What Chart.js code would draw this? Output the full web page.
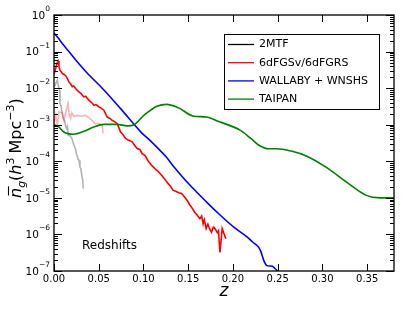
<!DOCTYPE html>
<html lang="en">
  <head>
    <meta charset="UTF-8" />
    <title>Redshifts</title>
    <script src="https://cdn.jsdelivr.net/npm/chart.js"></script>
    <style>
      body { margin: 0; background: #fff; }
      canvas { display: block; }
    </style>
  </head>
  <body>
    <canvas id="nzChart" width="415" height="312"></canvas>

    <script>
      // redshift z and number density (h^3 Mpc^-3)
      const mtfZ = [0.001, 0.002, 0.0037, 0.005, 0.006, 0.0067, 0.008, 0.009, 0.0104, 0.012, 0.013, 0.014, 0.015, 0.016, 0.018, 0.020, 0.021, 0.023, 0.024, 0.025, 0.026, 0.027, 0.028, 0.029, 0.030, 0.031, 0.032, 0.0327];
      const mtfN = [1.12e-2, 1.35e-2, 1.66e-2, 1.12e-2, 8.9e-3, 3.8e-3, 3.2e-3, 2.2e-3, 1.5e-3, 1.26e-3, 8.9e-4, 7.9e-4, 8.9e-4, 5.1e-4, 5.0e-4, 4.2e-4, 3.5e-4, 2.5e-4, 2.2e-4, 1.6e-4, 1.4e-4, 1.12e-4, 1.07e-4, 6.9e-5, 6.3e-5, 4.2e-5, 3.2e-5, 1.8e-5];

      const sixdfvZ = [0.0, 0.002, 0.0037, 0.0055, 0.009, 0.011, 0.0142, 0.0157, 0.0168, 0.0185, 0.020, 0.022, 0.026, 0.030, 0.035, 0.040, 0.046, 0.050, 0.054, 0.0548];
      const sixdfvN = [1.07e-3, 1.8e-3, 9.8e-4, 2.24e-3, 2.1e-3, 1.32e-3, 2.75e-3, 3.8e-3, 2.1e-3, 1.48e-3, 2.1e-3, 1.7e-3, 1.8e-3, 1.7e-3, 1.8e-3, 1.5e-3, 1.07e-3, 1.07e-3, 9.8e-4, 5.8e-4];

      const sixdfZ = [0.000, 0.002, 0.003, 0.0045, 0.0055, 0.0067, 0.008, 0.0093, 0.011, 0.013, 0.015, 0.0167, 0.0185, 0.0204, 0.022, 0.0242, 0.026, 0.0279, 0.030, 0.032, 0.0335, 0.0355, 0.0372, 0.039, 0.041, 0.043, 0.0446, 0.047, 0.050, 0.053, 0.0558, 0.0575, 0.0595, 0.062, 0.065, 0.068, 0.0706, 0.0725, 0.0744, 0.077, 0.080, 0.083, 0.0874, 0.090, 0.093, 0.096, 0.0985, 0.1016, 0.105, 0.109, 0.1127, 0.116, 0.120, 0.124, 0.1276, 0.130, 0.133, 0.136, 0.1395, 0.1425, 0.146, 0.149, 0.152, 0.155, 0.157, 0.160, 0.163, 0.165, 0.1667, 0.168, 0.170, 0.172, 0.174, 0.176, 0.178, 0.180, 0.1825, 0.1838, 0.1855, 0.188, 0.190, 0.192];
      const sixdfN = [2.4e-2, 3.55e-2, 4.47e-2, 5.5e-2, 3.98e-2, 3.09e-2, 2.82e-2, 2.51e-2, 2.4e-2, 2.19e-2, 1.82e-2, 1.48e-2, 1.32e-2, 1.1e-2, 1.15e-2, 9.8e-3, 8.7e-3, 7.9e-3, 7.2e-3, 6.3e-3, 5.75e-3, 6.0e-3, 5.25e-3, 4.7e-3, 4.2e-3, 3.8e-3, 3.4e-3, 3.55e-3, 3.1e-3, 2.8e-3, 2.5e-3, 2.0e-3, 1.62e-3, 1.51e-3, 1.32e-3, 1.2e-3, 1.07e-3, 8.3e-4, 6.3e-4, 5.4e-4, 4.2e-4, 3.8e-4, 3.4e-4, 2.75e-4, 2.24e-4, 2.1e-4, 1.62e-4, 1.45e-4, 1.05e-4, 7.8e-5, 6.3e-5, 5.4e-5, 4.2e-5, 3.2e-5, 2.45e-5, 2.1e-5, 1.62e-5, 1.51e-5, 1.38e-5, 1.32e-5, 1.05e-5, 8.3e-6, 6.3e-6, 5.0e-6, 4.1e-6, 3.4e-6, 2.7e-6, 3.2e-6, 1.95e-6, 2.5e-6, 1.45e-6, 1.9e-6, 1.41e-6, 1.15e-6, 1.58e-6, 1.45e-6, 1.12e-6, 1.26e-6, 3.2e-7, 1.45e-6, 1.05e-6, 7.6e-7];

      const wallabyZ = [0, 0.005, 0.01, 0.0167, 0.025, 0.037, 0.0558, 0.0744, 0.0985, 0.107, 0.125, 0.133, 0.15, 0.17, 0.185, 0.202, 0.215, 0.222, 0.228, 0.231, 0.235, 0.238, 0.244, 0.247, 0.25];
      const wallabyN = [3.2e-1, 2.3e-1, 1.58e-1, 1.0e-1, 5.6e-2, 2.6e-2, 8.9e-3, 2.75e-3, 5.8e-4, 3.8e-4, 1.35e-4, 7.6e-5, 2.5e-5, 7.9e-6, 3.5e-6, 1.5e-6, 8.9e-7, 6.2e-7, 4.7e-7, 3.5e-7, 1.8e-7, 1.4e-7, 1.35e-7, 1.17e-7, 1.0e-7];

      const taipanZ = [0, 0.005, 0.011, 0.022, 0.0335, 0.0446, 0.0558, 0.0706, 0.082, 0.089, 0.1004, 0.115, 0.126, 0.135, 0.141, 0.155, 0.17, 0.185, 0.208, 0.22, 0.229, 0.24, 0.249, 0.265, 0.282, 0.304, 0.327, 0.349, 0.364, 0.38];
      const taipanN = [1.0e-3, 8.9e-4, 6.3e-4, 5.5e-4, 6.6e-4, 8.7e-4, 1.02e-3, 1.02e-3, 9.3e-4, 9.8e-4, 1.8e-3, 3.2e-3, 3.6e-3, 3.2e-3, 2.75e-3, 1.74e-3, 1.62e-3, 1.2e-3, 7.1e-4, 4.2e-4, 2.75e-4, 2.2e-4, 2.2e-4, 1.9e-4, 1.4e-4, 6.9e-5, 2.7e-5, 1.17e-5, 1.0e-5, 1.0e-5];

      const xTicks = [0, 0.05, 0.10, 0.15, 0.20, 0.25, 0.30, 0.35];
      const yTickExps = [0, -1, -2, -3, -4, -5, -6, -7];
      const legendLabels = ['2MTF', '6dFGSv/6dFGRS', 'WALLABY + WNSHS', 'TAIPAN'];
      const legendColors = ['#000000', '#ff0000', '#0000ff', '#008000'];

      const FONT = '"DejaVu Sans", "Liberation Sans", sans-serif';

      function pts(zs, ns) {
        return zs.map((z, i) => ({ x: z, y: ns[i] }));
      }

      // frame, inward ticks, tick labels, axis titles and legend box
      const decorations = {
        id: 'decorations',
        afterDatasetsDraw(chart) {
          const ctx = chart.ctx;
          const a = chart.chartArea;
          const xs = chart.scales.x;
          const ys = chart.scales.y;
          ctx.save();
          ctx.strokeStyle = '#000';
          ctx.fillStyle = '#000';
          ctx.lineWidth = 1;

          // x ticks, top and bottom
          ctx.beginPath();
          xTicks.forEach(v => {
            const px = Math.round(xs.getPixelForValue(v)) + 0.5;
            ctx.moveTo(px, a.bottom); ctx.lineTo(px, a.bottom - 7);
            ctx.moveTo(px, a.top); ctx.lineTo(px, a.top + 7);
          });
          // y ticks, major and minor, left and right
          yTickExps.forEach(e => {
            for (let m = 1; m <= 9; m++) {
              const v = m * Math.pow(10, e);
              if (v > 1 || v < 1e-7) continue;
              const py = Math.round(ys.getPixelForValue(v)) + 0.5;
              const len = m === 1 ? 8 : 4;
              ctx.moveTo(a.left, py); ctx.lineTo(a.left + len, py);
              ctx.moveTo(a.right, py); ctx.lineTo(a.right - len, py);
            }
          });
          ctx.stroke();

          ctx.lineWidth = 1.3;
          ctx.strokeRect(a.left, a.top, a.right - a.left, a.bottom - a.top);

          // x tick labels
          ctx.font = '10px ' + FONT;
          ctx.textAlign = 'center';
          ctx.textBaseline = 'middle';
          xTicks.forEach(v => {
            ctx.fillText(v.toFixed(2), xs.getPixelForValue(v), a.bottom + 8);
          });

          // y tick labels 10^e
          yTickExps.forEach(e => {
            const py = ys.getPixelForValue(Math.pow(10, e));
            const ex = e === 0 ? '0' : '\u2212' + (-e);
            ctx.font = '7.5px ' + FONT;
            ctx.textAlign = 'right';
            const ew = ctx.measureText(ex).width;
            ctx.fillText(ex, 50, py - 6);
            ctx.font = '10.5px ' + FONT;
            ctx.fillText('10', 50 - ew, py + 1);
          });

          // x title
          ctx.font = 'italic 17px ' + FONT;
          ctx.textAlign = 'center';
          ctx.textBaseline = 'alphabetic';
          ctx.fillText('z', (a.left + a.right) / 2, 296);

          // y title, rotated
          ctx.save();
          ctx.translate(21, 198);
          ctx.rotate(-Math.PI / 2);
          ctx.textAlign = 'left';
          let cx = 0;
          const put = (txt, font, dy) => {
            ctx.font = font;
            ctx.fillText(txt, cx, dy);
            const w = ctx.measureText(txt).width;
            cx += w;
            return w;
          };
          const nStart = cx;
          const nw = put('n', 'italic 16px ' + FONT, 0);
          ctx.lineWidth = 1.1;
          ctx.beginPath();
          ctx.moveTo(nStart + 2.5, -12.5); ctx.lineTo(nStart + nw + 1.5, -12.5);
          ctx.stroke();
          put('g', 'italic 11px ' + FONT, 4);
          put('(', '16px ' + FONT, 0);
          put('h', 'italic 16px ' + FONT, 0);
          put('3', '11px ' + FONT, -7);
          cx += 4;
          put('Mpc', '16px ' + FONT, 0);
          put('\u22123', '11px ' + FONT, -7);
          put(')', '16px ' + FONT, 0);
          ctx.restore();

          // annotation
          ctx.font = '12px ' + FONT;
          ctx.textAlign = 'left';
          ctx.textBaseline = 'middle';
          ctx.fillText('Redshifts', 82, 246);

          // legend
          ctx.fillStyle = '#fff';
          ctx.fillRect(224, 34, 156, 76);
          ctx.strokeStyle = '#000';
          ctx.lineWidth = 1;
          ctx.strokeRect(224.5, 34.5, 155, 75);
          ctx.font = '11px ' + FONT;
          ctx.fillStyle = '#000';
          legendLabels.forEach((lab, i) => {
            const ly = 44.5 + i * 18.2;
            ctx.strokeStyle = legendColors[i];
            ctx.lineWidth = 1.3;
            ctx.beginPath();
            ctx.moveTo(228, ly); ctx.lineTo(254, ly);
            ctx.stroke();
            ctx.fillText(lab, 259, ly);
          });
          ctx.restore();
        }
      };

      const common = { pointRadius: 0, borderWidth: 1.6, fill: false, showLine: true };

      new Chart(document.getElementById('nzChart'), {
        type: 'scatter',
        data: {
          datasets: [
            { ...common, label: 'TAIPAN', data: pts(taipanZ, taipanN), borderColor: '#008000', tension: 0.4, cubicInterpolationMode: 'monotone' },
            { ...common, label: 'WALLABY + WNSHS', data: pts(wallabyZ, wallabyN), borderColor: '#0000ff', tension: 0.3 },
            { ...common, label: '6dFGSv/6dFGRS', data: pts(sixdfZ, sixdfN), borderColor: '#ff0000', tension: 0 },
            { ...common, label: '6dFGSv', data: pts(sixdfvZ, sixdfvN), borderColor: 'rgba(255,0,0,0.3)', tension: 0 },
            { ...common, label: '2MTF', data: pts(mtfZ, mtfN), borderColor: 'rgba(0,0,0,0.3)', tension: 0 }
          ]
        },
        options: {
          responsive: false,
          animation: false,
          layout: { padding: { left: 54, top: 15, right: 21, bottom: 41 } },
          plugins: { legend: { display: false }, tooltip: { enabled: false } },
          scales: {
            x: { type: 'linear', min: 0, max: 0.38, display: false },
            y: { type: 'logarithmic', min: 1e-7, max: 1, display: false }
          }
        },
        plugins: [decorations]
      });
    </script>
  </body>
</html>
